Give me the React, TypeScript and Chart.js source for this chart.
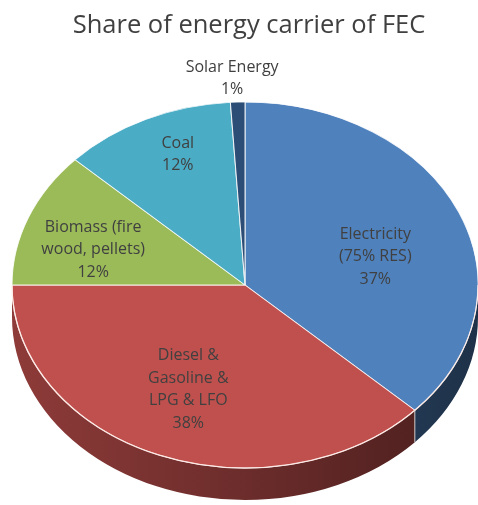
import React, { useEffect, useRef } from "react";
import { Chart, registerables } from "chart.js";

Chart.register(...registerables);

const TITLE = "Share of energy carrier of FEC";
const CATEGORIES: string[][] = [
  ["Electricity", "(75% RES)"],
  ["Diesel &", "Gasoline &", "LPG & LFO"],
  ["Biomass (fire", "wood, pellets)"],
  ["Coal"],
  ["Solar Energy"],
];
const SHARES = [37, 38, 12, 12, 1];
const COLORS = ["#4F81BD", "#C0504D", "#9BBB59", "#4BACC6", "#2C4D75"];

// label placement relative to slice middle: radius fraction and angle shift (deg)
const LABEL_PLACEMENT = [
  { r: 0.58, da: 8 },
  { r: 0.62, da: 1.5 },
  { r: 0.68, da: -5 },
  { r: 0.77, da: 3.2 },
  { r: 1.13, da: -1 },
];
const GEOM = { cx: 245, cy: 285, rx: 233, ry: 183, depth: 32 };
const FONT = "'Open Sans', 'DejaVu Sans', sans-serif";
const TEXT_COLOR = "#404040";

function shade(hex: string, f: number) {
  const n = parseInt(hex.slice(1), 16);
  const r = Math.round(((n >> 16) & 255) * f);
  const g = Math.round(((n >> 8) & 255) * f);
  const b = Math.round((n & 255) * f);
  return `rgb(${r},${g},${b})`;
}

const pie3d = {
  id: "pie3d",
  beforeDatasetsDraw(chart: any) {
    const meta = chart.getDatasetMeta(0);
    const ctx: CanvasRenderingContext2D = chart.ctx;
    const { cx, cy, rx, ry, depth } = GEOM;
    ctx.save();
    meta.data.forEach((arc: any, i: number) => {
      const { startAngle, endAngle } = arc.getProps(["startAngle", "endAngle"], true);
      const lo = Math.max(startAngle, 0);
      const hi = Math.min(endAngle, Math.PI);
      if (hi <= lo) return;
      const g = ctx.createLinearGradient(cx - rx, 0, cx + rx, 0);
      g.addColorStop(0, shade(COLORS[i], 0.74));
      g.addColorStop(1, shade(COLORS[i], 0.38));
      ctx.beginPath();
      ctx.ellipse(cx, cy, rx, ry, 0, lo, hi, false);
      ctx.ellipse(cx, cy + depth, rx, ry, 0, hi, lo, true);
      ctx.closePath();
      ctx.fillStyle = g;
      ctx.fill();
    });
    meta.data.forEach((arc: any) => {
      const { endAngle } = arc.getProps(["endAngle"], true);
      if (endAngle > 0 && endAngle < Math.PI) {
        const x = cx + rx * Math.cos(endAngle);
        const y = cy + ry * Math.sin(endAngle);
        ctx.beginPath();
        ctx.moveTo(x, y);
        ctx.lineTo(x, y + depth);
        ctx.strokeStyle = "rgba(230,230,230,0.8)";
        ctx.lineWidth = 1;
        ctx.stroke();
      }
    });
    ctx.restore();
    const a0 = meta.data[0];
    const R = a0.outerRadius;
    ctx.save();
    ctx.translate(cx, cy);
    ctx.scale(rx / R, ry / R);
    ctx.translate(-a0.x, -a0.y);
  },
  afterDatasetsDraw(chart: any) {
    const ctx: CanvasRenderingContext2D = chart.ctx;
    ctx.restore();
    const meta = chart.getDatasetMeta(0);
    const { cx, cy, rx, ry } = GEOM;
    ctx.save();
    // front rim highlight
    ctx.beginPath();
    ctx.ellipse(cx, cy, rx, ry, 0, 0, Math.PI, false);
    ctx.strokeStyle = "rgba(255,236,232,0.9)";
    ctx.lineWidth = 1.3;
    ctx.stroke();
    // labels
    const total = SHARES.reduce((a, b) => a + b, 0);
    ctx.fillStyle = TEXT_COLOR;
    ctx.font = `16px ${FONT}`;
    ctx.textAlign = "center";
    ctx.textBaseline = "middle";
    const lh = 22.5;
    meta.data.forEach((arc: any, i: number) => {
      const { startAngle, endAngle } = arc.getProps(["startAngle", "endAngle"], true);
      const p = LABEL_PLACEMENT[i];
      const mid = (startAngle + endAngle) / 2 + (p.da * Math.PI) / 180;
      const x = cx + p.r * rx * Math.cos(mid);
      const y = cy + p.r * ry * Math.sin(mid);
      const lines = [...CATEGORIES[i], Math.round((SHARES[i] / total) * 100) + "%"];
      const top = y - ((lines.length - 1) * lh) / 2;
      lines.forEach((t, k) => ctx.fillText(t, x, top + k * lh));
    });
    ctx.restore();
  },
};

export default function App() {
  const ref = useRef<HTMLCanvasElement | null>(null);
  useEffect(() => {
    document.body.style.margin = "0";
    const canvas = ref.current!;
    const chart = new Chart(canvas, {
      type: "pie",
      data: {
        labels: CATEGORIES,
        datasets: [
          {
            data: SHARES,
            backgroundColor: COLORS,
            borderColor: "rgba(255,255,255,0.85)",
            borderWidth: 1,
            clip: false,
          } as any,
        ],
      },
      options: {
        responsive: false,
        animation: false,
        events: [],
        layout: { padding: { left: 20, right: 0, top: 0, bottom: 0 } },
        plugins: {
          legend: { display: false },
          tooltip: { enabled: false },
          title: {
            display: true,
            text: TITLE,
            color: TEXT_COLOR,
            font: { family: FONT, size: 25.5, weight: "normal" as any },
            padding: { top: 10, bottom: 10 },
          },
        },
      },
      plugins: [pie3d],
    });
    return () => chart.destroy();
  }, []);
  return (
    <canvas ref={ref} width={478} height={505} style={{ display: "block", width: 478, height: 505 }} />
  );
}
